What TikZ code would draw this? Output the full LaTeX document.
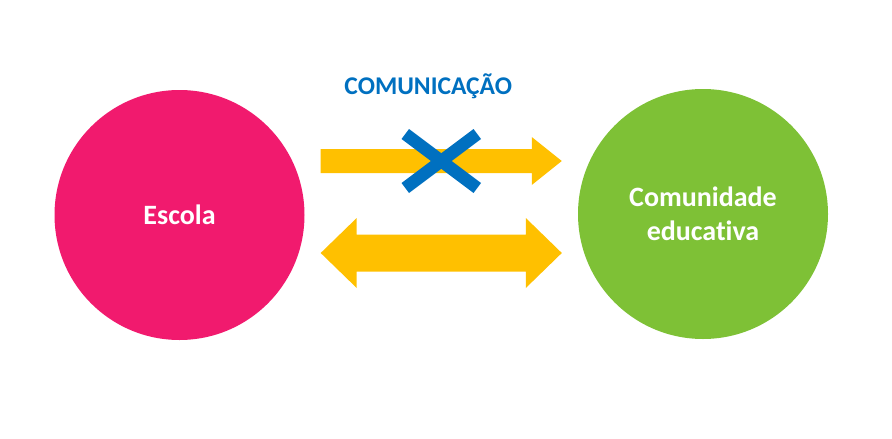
\documentclass[tikz,border=0pt]{standalone}
\usepackage{fontspec}
\setmainfont{Carlito}[Ligatures=NoCommon]
\usetikzlibrary{calc}
\definecolor{EscPink}{HTML}{F11A6E}
\definecolor{ComGreen}{HTML}{7EC136}
\definecolor{ArrGold}{HTML}{FFC000}
\definecolor{MsgBlue}{HTML}{0070C0}

\begin{document}
\begin{tikzpicture}[x=1pt, y=-1pt, font=\bfseries]
\tikzset{blob/.style={circle, minimum size=250pt, inner sep=0pt, text=white,
  font=\fontsize{28}{34}\selectfont\bfseries, align=center}}
\useasboundingbox (0,0) rectangle (892,439);
\def\gap{16}
\def\hw{30}
\def\dw{36}

\node[blob, fill=EscPink] (esc) at (179.5,215) {Escola};
\node[blob, fill=ComGreen] (com) at (703,214) {Comunidade\\educativa};

% one way, crossed out
\coordinate (oneL) at ($(esc.east)+(\gap,-54)$);
\coordinate (oneR) at ($(com.west)+(-\gap,-53)$);
\fill[ArrGold] ($(oneL)+(0,-12)$) -- ($(oneR)+(-\hw,-12)$) -- ($(oneR)+(-\hw,-24)$)
  -- (oneR) -- ($(oneR)+(-\hw,24)$) -- ($(oneR)+(-\hw,12)$) -- ($(oneL)+(0,12)$) -- cycle;
\coordinate (cross) at ($(oneL)!0.5!(oneR)$);
\draw[MsgBlue, line width=12.5pt] ($(cross)+(-36,-27)$) -- ($(cross)+(36,27)$);
\draw[MsgBlue, line width=12.5pt] ($(cross)+(36,-27)$) -- ($(cross)+(-36,27)$);
\node[text=MsgBlue, font=\fontsize{25.5}{30}\selectfont\bfseries] (msg)
  at ($(cross)+(-13,-75)$) {COMUNICAÇÃO};

% both ways
\coordinate (twoL) at ($(esc.east)+(\gap,38)$);
\coordinate (twoR) at ($(com.west)+(-\gap,39)$);
\fill[ArrGold] (twoL) -- ($(twoL)+(\dw,-35)$) -- ($(twoL)+(\dw,-18.5)$)
  -- ($(twoR)+(-\dw,-18.5)$) -- ($(twoR)+(-\dw,-35)$) -- (twoR)
  -- ($(twoR)+(-\dw,35)$) -- ($(twoR)+(-\dw,18.5)$)
  -- ($(twoL)+(\dw,18.5)$) -- ($(twoL)+(\dw,35)$) -- cycle;
\end{tikzpicture}
\end{document}
